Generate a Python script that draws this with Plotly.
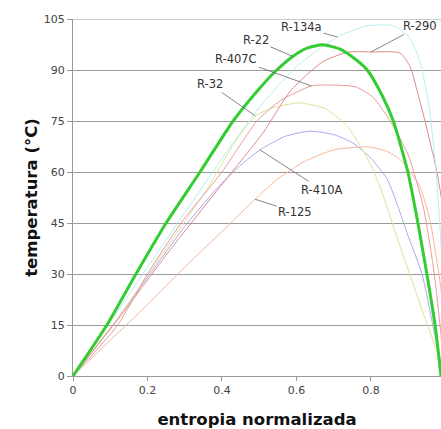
import plotly.graph_objects as go

# ---- data ----
r22_x = [0, 0.091, 0.169, 0.25, 0.341, 0.43, 0.50, 0.547, 0.59, 0.63, 0.67, 0.72, 0.76, 0.79, 0.83, 0.86, 0.899, 0.926, 0.95, 0.972, 0.988]
r22_t = [0, 15, 30, 45, 60, 75, 84.5, 90, 94, 96.5, 97.4, 96, 93, 90, 82.5, 75, 60, 45, 30, 15, 0]

r290_x = [0, 0.13, 0.26, 0.39, 0.51, 0.585, 0.67, 0.74, 0.8, 0.878, 0.905, 0.926, 0.945, 0.977, 1.0]
r290_t = [0, 18, 37, 55, 71.5, 84, 92.4, 95.3, 95.3, 95, 91, 83, 75, 60, 45]

r407c_x = [0, 0.12, 0.2, 0.29, 0.4, 0.494, 0.557, 0.64, 0.69, 0.76, 0.805, 0.85, 0.9, 0.94, 0.97, 0.99, 1.0]
r407c_t = [0, 15, 30, 45, 60, 75, 81, 85.3, 85.6, 85, 82, 75.3, 65, 50, 30, 10, 0]

r32_x = [0, 0.12, 0.24, 0.36, 0.43, 0.49, 0.54, 0.61, 0.68, 0.74, 0.8, 0.833, 0.866, 0.904, 0.945, 0.985, 1.0]
r32_t = [0, 17, 36, 55, 68, 76.5, 79, 80.3, 78.5, 73, 62, 53, 42, 30, 17, 5, 0]

r410a_x = [0, 0.1, 0.2, 0.3, 0.385, 0.45, 0.502, 0.57, 0.636, 0.7, 0.752, 0.8, 0.843, 0.872, 0.897, 0.937, 0.966, 0.99, 1.0]
r410a_t = [0, 14, 29, 44, 55, 62, 66.5, 70.5, 72, 71, 68.5, 64, 58, 50, 42, 30, 15, 3, 0]

r125_x = [0, 0.1, 0.2, 0.3, 0.4, 0.489, 0.55, 0.62, 0.7, 0.79, 0.84, 0.88, 0.93, 0.958, 0.985, 1.0]
r125_t = [0, 10.5, 21, 32, 42.5, 52, 58, 63, 66.5, 67.4, 66.2, 63.5, 56, 46, 28, 14]

r134a_x = [0, 0.1, 0.2, 0.3, 0.4, 0.5, 0.6, 0.71, 0.79, 0.86, 0.9, 0.93, 0.955, 0.975, 0.99, 1.0]
r134a_t = [0, 16, 32, 48, 64, 79, 91, 99.7, 103, 103, 100, 93, 80, 60, 35, 0]

x_ticks = [0, 0.2, 0.4, 0.6, 0.8]
x_tick_labels = ["0", "0.2", "0.4", "0.6", "0.8"]
y_ticks = [0, 15, 30, 45, 60, 75, 90, 105]

FONT = "DejaVu Sans, Verdana, sans-serif"

series = [
    ("R-125", r125_x, r125_t, "#f5b89a", 1),
    ("R-410A", r410a_x, r410a_t, "#aaaaf0", 1),
    ("R-32", r32_x, r32_t, "#dde39a", 1),
    ("R-407C", r407c_x, r407c_t, "#eb9c9c", 1),
    ("R-290", r290_x, r290_t, "#e08a8a", 1),
    ("R-134a", r134a_x, r134a_t, "#b8eeee", 1),
    ("R-22", r22_x, r22_t, "#33cc33", 3),
]

fig = go.Figure()
for name, xs, ts, col, w in series:
    fig.add_trace(go.Scatter(x=xs, y=ts, mode="lines", name=name,
                             line=dict(color=col, width=w, shape="spline", smoothing=0.6),
                             hoverinfo="skip"))

# label annotations: (name, series x, series t, index of pointed point, text offset px)
labels = [
    ("R-134a", r134a_x, r134a_t, 7, -36, -10),
    ("R-290", r290_x, r290_t, 8, 49, -26),
    ("R-22", r22_x, r22_t, 8, -37, -16),
    ("R-407C", r407c_x, r407c_t, 7, -75, -27),
    ("R-32", r32_x, r32_t, 5, -46, -32),
    ("R-410A", r410a_x, r410a_t, 6, 62, 40),
    ("R-125", r125_x, r125_t, 5, 40, 13),
]
for name, xs, ts, i, ax, ay in labels:
    fig.add_annotation(x=xs[i], y=ts[i], text=name, showarrow=True, arrowhead=0,
                       arrowwidth=0.8, arrowcolor="#666666", ax=ax, ay=ay,
                       font=dict(family=FONT, size=11.5, color="#333333"), standoff=0)

# top border gridline at the last y tick
fig.add_shape(type="line", xref="paper", x0=0, x1=1, yref="y", y0=y_ticks[-1], y1=y_ticks[-1],
              line=dict(color="#9a9a9a", width=1), layer="below")

fig.update_layout(
    width=441, height=429,
    margin=dict(l=73, r=0, t=19, b=53),
    paper_bgcolor="white", plot_bgcolor="white",
    showlegend=False,
    font=dict(family=FONT, size=11, color="#333333"),
)
fig.update_xaxes(range=[0, 0.988], tickvals=x_ticks, ticktext=x_tick_labels, automargin=False,
                 showgrid=False, zeroline=False, showline=True, linecolor="#999999", linewidth=1,
                 ticks="outside", ticklen=4, tickcolor="#999999",
                 tickfont=dict(family=FONT, size=11, color="#444444"),
                 title=dict(text="<b>entropia normalizada</b>", font=dict(family=FONT, size=16.5, color="#111111"), standoff=23))
fig.update_yaxes(range=[0, 105], tickvals=y_ticks, automargin=False,
                 showgrid=True, gridcolor="#9a9a9a", gridwidth=1, zeroline=False,
                 showline=True, linecolor="#999999", linewidth=1,
                 ticks="outside", ticklen=5, tickcolor="#999999",
                 tickfont=dict(family=FONT, size=11, color="#444444"),
                 title=dict(text="<b>temperatura (°C)</b>", font=dict(family=FONT, size=16.5, color="#111111"), standoff=2))

fig.write_html("out.html", config={"displayModeBar": False},
               post_script="document.body.style.margin='0';document.body.style.overflow='hidden';")
